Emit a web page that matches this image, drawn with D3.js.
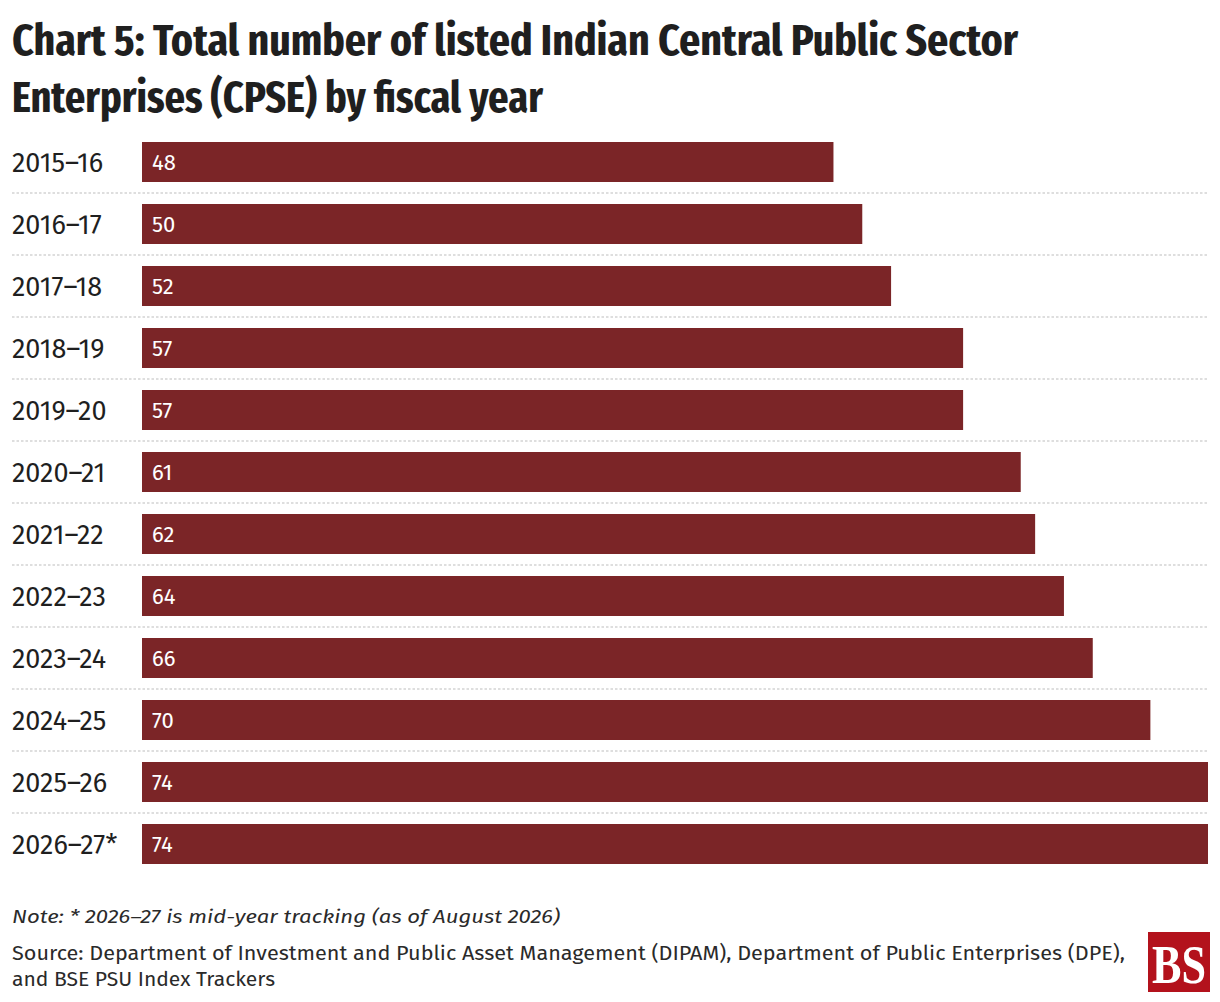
<!DOCTYPE html>
<html>
<head>
<meta charset="utf-8">
<script src="https://cdn.jsdelivr.net/npm/d3@7"></script>
<style>
  html, body { margin: 0; padding: 0; background: #ffffff; }
  svg { display: block; }
</style>
</head>
<body>
<div id="chart"></div>
<script>
// ---- Data ----
const categories = ["2015-16", "2016-17", "2017-18", "2018-19", "2019-20", "2020-21",
                    "2021-22", "2022-23", "2023-24", "2024-25", "2025-26", "2026-27*"];
const values = [48, 50, 52, 57, 57, 61, 62, 64, 66, 70, 74, 74];
const titleLines = ["Chart 5: Total number of listed Indian Central Public Sector",
                    "Enterprises (CPSE) by fiscal year"];
const noteText = "Note: * 2026\u201327 is mid-year tracking (as of August 2026)";
const sourceLines = ["Source: Department of Investment and Public Asset Management (DIPAM), Department of Public Enterprises (DPE),",
                     "and BSE PSU Index Trackers"];
const categoryLabels = categories.map(c => c.replace("-", "\u2013"));

// ---- Layout ----
const W = 1220, H = 1002;
const barColor = "#7b2527";
const titleFont = "'Fira Sans Extra Condensed','Fira Sans Condensed','Roboto Condensed','Liberation Sans Narrow','DejaVu Sans Condensed',Roboto,'Noto Sans',sans-serif";
const bodyFont = "'Fira Sans','Open Sans','Noto Sans',Roboto,sans-serif";

const svg = d3.select("#chart").append("svg")
  .attr("width", W).attr("height", H)
  .attr("viewBox", `0 0 ${W} ${H}`);

// fit helper: squeeze/stretch text to a target width
function fit(sel, width) {
  sel.each(function() {
    const len = this.getComputedTextLength();
    if (Math.abs(len - width) > 1) {
      d3.select(this).attr("textLength", width).attr("lengthAdjust", "spacingAndGlyphs");
    }
  });
}

// Title
const titleWidths = [1006, 531];
const titleBase = [55, 112];
titleLines.forEach((t, i) => {
  const tx = svg.append("text")
    .attr("x", 12).attr("y", titleBase[i])
    .attr("font-family", titleFont)
    .attr("font-weight", 700)
    .attr("font-size", 43)
    .attr("fill", "#1f1f1f")
    .text(t);
  fit(tx, titleWidths[i]);
});

// Scales
const x = d3.scaleLinear().domain([0, 74]).range([142, 1208]);
const y = d3.scaleBand().domain(categories).range([142, 864])
  .paddingInner(22 / 62).paddingOuter(0);

const g = svg.append("g");

// Separators (between rows)
const sepData = categories.slice(0, -1);
g.selectAll("line.sep").data(sepData).join("line")
  .attr("class", "sep")
  .attr("x1", 12).attr("x2", 1208)
  .attr("y1", d => y(d) + y.bandwidth() + (y.step() - y.bandwidth()) / 2)
  .attr("y2", d => y(d) + y.bandwidth() + (y.step() - y.bandwidth()) / 2)
  .attr("stroke", "#dedede")
  .attr("stroke-width", 2)
  .attr("stroke-dasharray", "2.5,2");

// Bars
g.selectAll("rect.bar").data(categories).join("rect")
  .attr("class", "bar")
  .attr("x", x(0))
  .attr("y", d => y(d))
  .attr("width", (d, i) => x(values[i]) - x(0))
  .attr("height", y.bandwidth())
  .attr("fill", barColor);

// Category labels
g.selectAll("text.cat").data(categories).join("text")
  .attr("class", "cat")
  .attr("x", 12)
  .attr("y", d => y(d) + y.bandwidth() / 2)
  .attr("dy", "0.36em")
  .attr("font-family", bodyFont)
  .attr("font-size", 27)
  .attr("fill", "#1f1f1f")
  .text((d, i) => categoryLabels[i]);

// Value labels
g.selectAll("text.val").data(categories).join("text")
  .attr("class", "val")
  .attr("x", x(0) + 10)
  .attr("y", d => y(d) + y.bandwidth() / 2)
  .attr("dy", "0.36em")
  .attr("font-family", bodyFont)
  .attr("font-size", 22)
  .attr("fill", "#ffffff")
  .text((d, i) => values[i]);

// Footer
const note = svg.append("text")
  .attr("x", 12).attr("y", 923)
  .attr("font-family", bodyFont)
  .attr("font-style", "italic")
  .attr("font-size", 19)
  .attr("fill", "#2a2a2a")
  .text(noteText);
fit(note, 548);

const srcWidths = [1113, 263];
const srcBase = [960, 986];
sourceLines.forEach((t, i) => {
  const tx = svg.append("text")
    .attr("x", 12).attr("y", srcBase[i])
    .attr("font-family", bodyFont)
    .attr("font-size", 19.5)
    .attr("fill", "#2a2a2a")
    .text(t);
  fit(tx, srcWidths[i]);
});

// Logo
const logo = svg.append("g");
logo.append("rect")
  .attr("x", 1148).attr("y", 932).attr("width", 62).attr("height", 60)
  .attr("fill", "#b3121c");
const bs = logo.append("text")
  .attr("x", 1179).attr("y", 983)
  .attr("text-anchor", "middle")
  .attr("font-family", "'Liberation Serif','DejaVu Serif',serif")
  .attr("font-weight", 700)
  .attr("font-size", 54)
  .attr("fill", "#ffffff")
  .text("BS");
fit(bs, 54);
</script>
</body>
</html>
